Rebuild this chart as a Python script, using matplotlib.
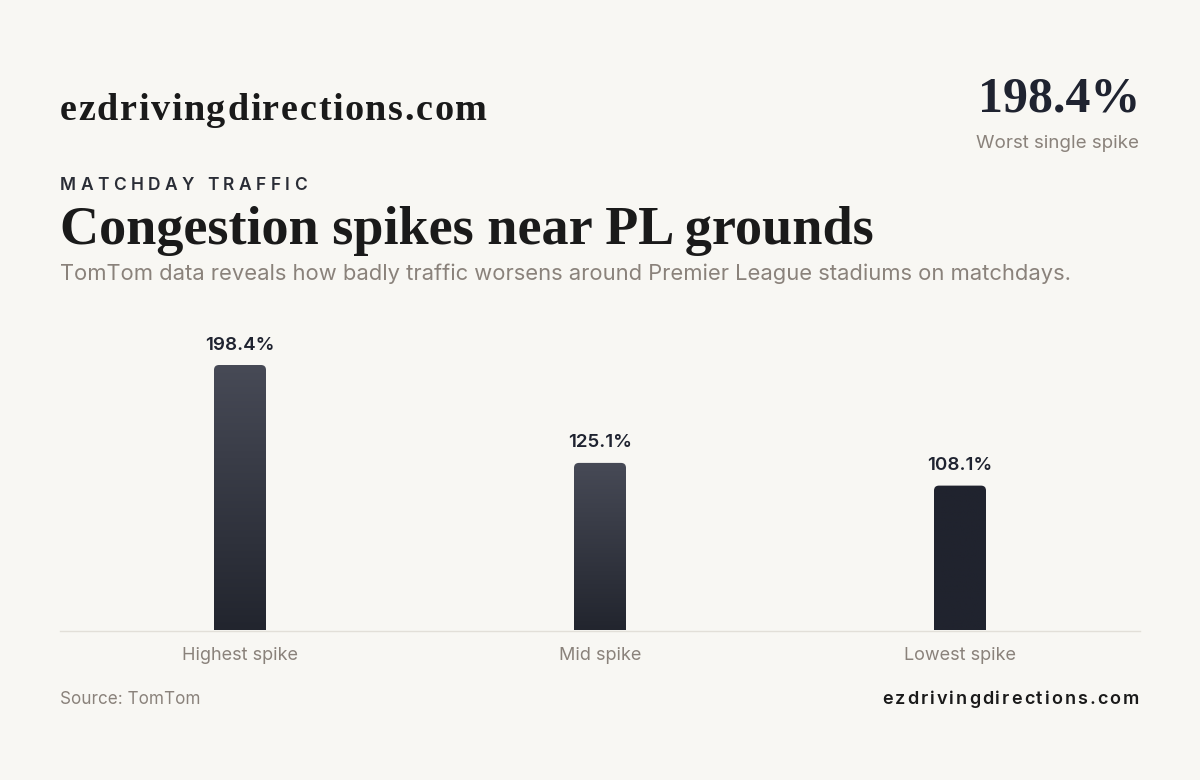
import matplotlib
matplotlib.use("Agg")
import matplotlib.pyplot as plt
import numpy as np
from matplotlib.path import Path
from matplotlib.patches import PathPatch
from matplotlib.colors import LinearSegmentedColormap

# ---- data ----
categories = ["Highest spike", "Mid spike", "Lowest spike"]
values = [198.4, 125.1, 108.1]
value_labels = ["198.4%", "125.1%", "108.1%"]
headline_value = "198.4%"
headline_caption = "Worst single spike"
brand = "ezdrivingdirections.com"
kicker = "MATCHDAY TRAFFIC"
title = "Congestion spikes near PL grounds"
subtitle = "TomTom data reveals how badly traffic worsens around Premier League stadiums on matchdays."
source = "Source: TomTom"

BG = "#f8f7f3"
DARK = "#1f2330"
MUTED = "#8a827b"
SERIF = ["Liberation Serif", "DejaVu Serif"]
SANS = ["Inter", "DejaVu Sans"]

W, H = 1200, 780
fig = plt.figure(figsize=(12, 7.8), dpi=100, facecolor=BG)

def fx(px):
    return px / W

def fy(py):
    return 1 - py / H

renderer = fig.canvas.get_renderer()

def spaced_text(x, y, s, spacing, ha="left", **kw):
    # draw text char by char with extra tracking (pixels)
    widths = []
    for ch in s:
        if ch == " ":
            t2 = fig.text(0, 0, "a a", **kw)
            t3 = fig.text(0, 0, "aa", **kw)
            w = t2.get_window_extent(renderer).width - t3.get_window_extent(renderer).width
            t2.remove(); t3.remove()
        else:
            t = fig.text(0, 0, ch, **kw)
            w = t.get_window_extent(renderer).width
            t.remove()
        widths.append(w)
    total = sum(widths) + spacing * (len(s) - 1)
    cx = x if ha == "left" else x - total
    for ch, w in zip(s, widths):
        if ch != " ":
            fig.text(fx(cx), fy(y), ch, ha="left", va="baseline", **kw)
        cx += w + spacing

# ---- header texts ----
spaced_text(60, 120, brand, 1.6, fontsize=27.5, fontweight="bold", family=SERIF,
            color="#1a1a1a")
fig.text(fx(1140), fy(100), headline_value, ha="right", va="center", fontsize=36,
         fontweight="bold", family=SERIF, color=DARK)
fig.text(fx(1139), fy(144), headline_caption, ha="right", va="center", fontsize=13.5,
         family=SANS, color=MUTED)
spaced_text(60, 190, kicker, 4.4, fontsize=12.5, fontweight="semibold",
            family=SANS, color="#2a2d36")
fig.text(fx(60), fy(231), title, ha="left", va="center", fontsize=39,
         fontweight="bold", family=SERIF, color="#1a1a1a")
fig.text(fx(60), fy(274), subtitle, ha="left", va="center", fontsize=15.8,
         family=SANS, color=MUTED)

# ---- chart ----
scale = 265.0 / 198.4  # px per unit
ytop = 198.4 * 1.1
ax_h_px = ytop * scale
ax = fig.add_axes([fx(60), fy(630), fx(1080), ax_h_px / H])
ax.set_facecolor("none")
ax.set_xlim(-0.5, len(categories) - 0.5)
ax.set_ylim(0, ytop)
for sp in ax.spines.values():
    sp.set_visible(False)
ax.set_yticks([])
ax.set_xticks([])

x = np.arange(len(categories))
bar_w = 52 / 360
bars = ax.bar(x, values, width=bar_w, color=DARK)

top_colors = ["#474a56", "#474a56", "#20232e"]
bot_colors = ["#22252e", "#22252e", "#20232e"]

dx_per_px = 3.0 / 1080
dy_per_px = ytop / ax_h_px
r = 5
for b, ct, cb in zip(bars, top_colors, bot_colors):
    b.set_visible(False)
    x0 = b.get_x(); x1 = x0 + b.get_width(); h = b.get_height()
    rx = r * dx_per_px; ry = r * dy_per_px
    verts = [(x0, 0), (x0, h - ry), (x0, h), (x0 + rx, h), (x1 - rx, h),
             (x1, h), (x1, h - ry), (x1, 0), (x0, 0)]
    codes = [Path.MOVETO, Path.LINETO, Path.CURVE3, Path.CURVE3, Path.LINETO,
             Path.CURVE3, Path.CURVE3, Path.LINETO, Path.CLOSEPOLY]
    clip = PathPatch(Path(verts, codes), facecolor="none", edgecolor="none",
                     transform=ax.transData)
    ax.add_patch(clip)
    cmap = LinearSegmentedColormap.from_list("g", [cb, ct])
    grad = np.linspace(0, 1, 256).reshape(-1, 1)
    im = ax.imshow(grad, extent=[x0, x1, 0, h], origin="lower", aspect="auto",
                   cmap=cmap, zorder=2)
    im.set_clip_path(clip)

ax.set_xlim(-0.5, len(categories) - 0.5)
ax.set_ylim(0, ytop)

for xi, v, lab in zip(x, values, value_labels):
    ax.annotate(lab, (xi, v), xytext=(0, 20), textcoords="offset pixels",
                ha="center", va="center", fontsize=13.5, fontweight="semibold",
                family=SANS, color=DARK)

# baseline
fig.add_artist(plt.Line2D([fx(60), fx(1140)], [fy(631), fy(631)], color="#e2dfd8",
                          lw=1.0))

for xi, c in zip(x, categories):
    ax.annotate(c, (xi, 0), xytext=(0, -26), textcoords="offset pixels",
                ha="center", va="center", fontsize=13, family=SANS, color=MUTED,
                annotation_clip=False)

# ---- footer ----
fig.text(fx(60), fy(699), source, ha="left", va="center", fontsize=12.3,
         family=SANS, color=MUTED)
spaced_text(1139, 704, brand, 2.0, ha="right", fontsize=13, fontweight="semibold",
            family=SANS, color="#1a1a1a")

fig.savefig("out.png", dpi=100, facecolor=BG)
